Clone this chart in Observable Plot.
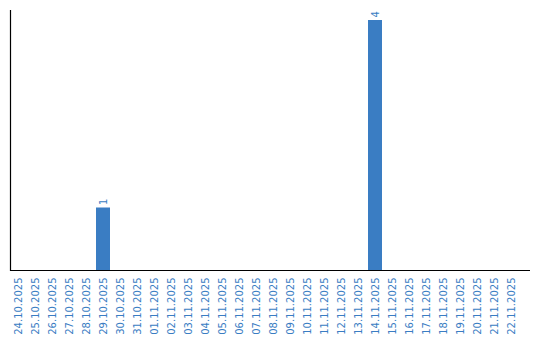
<!DOCTYPE html>
<html><head><meta charset="utf-8">
<script src="https://cdn.jsdelivr.net/npm/d3@7"></script>
<script src="https://cdn.jsdelivr.net/npm/@observablehq/plot@0.6"></script>
<style>body{margin:0;background:#fff;} svg text{font-family:"DejaVu Sans",Verdana,sans-serif;}</style>
</head><body><div id="chart"></div>
<script>
const dates = ["24.10.2025","25.10.2025","26.10.2025","27.10.2025","28.10.2025","29.10.2025","30.10.2025","31.10.2025","01.11.2025","02.11.2025","03.11.2025","04.11.2025","05.11.2025","06.11.2025","07.11.2025","08.11.2025","09.11.2025","10.11.2025","11.11.2025","12.11.2025","13.11.2025","14.11.2025","15.11.2025","16.11.2025","17.11.2025","18.11.2025","19.11.2025","20.11.2025","21.11.2025","22.11.2025"];
const counts = [0,0,0,0,0,1,0,0,0,0,0,0,0,0,0,0,0,0,0,0,0,4,0,0,0,0,0,0,0,0];
const data = dates.map((d,i)=>({date:d, count:counts[i]}));
const nonZero = data.filter(d=>d.count>0);
const blue = "#3a7dc3";
const chart = Plot.plot({
  width: 540, height: 340,
  marginLeft: 10, marginRight: 10, marginTop: 10, marginBottom: 70,
  style: {fontFamily: "DejaVu Sans", fontSize: "10px", background: "#fff"},
  x: {domain: dates, range: [9, 519], paddingInner: 0.18, paddingOuter: 0, label: null},
  y: {domain: [0, 4], range: [270, 20], axis: null},
  marks: [
    Plot.barY(data, {x: "date", y: "count", fill: blue}),
    Plot.text(nonZero, {x: "date", y: "count", text: d => String(d.count), rotate: -90, textAnchor: "start", dy: -3, fill: blue, fontSize: 10, fontFamily: "DejaVu Sans"}),
    Plot.axisX({tickRotate: -90, tickSize: 0, tickPadding: 7, fill: blue, label: null, fontSize: 10, fontFamily: "DejaVu Sans"}),
    Plot.ruleY([0], {stroke: "#000", strokeWidth: 1.2}),
    Plot.frame({anchor: "left", stroke: "#000", strokeWidth: 1.2})
  ]
});
document.getElementById("chart").appendChild(chart);
</script>
</body></html>
